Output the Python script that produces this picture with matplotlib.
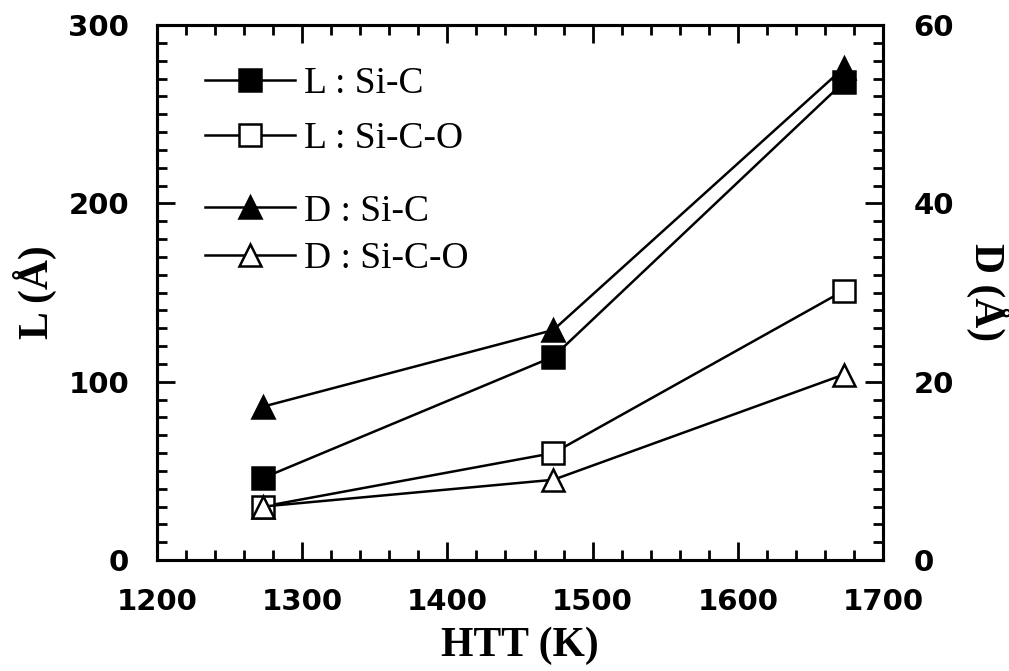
import matplotlib
matplotlib.use("Agg")
import matplotlib.pyplot as plt
from matplotlib.ticker import MultipleLocator

# Data
htt = [1273, 1473, 1673]
L_SiC = [46, 114, 268]
L_SiCO = [30, 60, 151]
D_SiC = [17.2, 25.8, 55.2]
D_SiCO = [6.0, 9.0, 20.8]

labels_L = ["L : Si-C", "L : Si-C-O"]
labels_D = ["D : Si-C", "D : Si-C-O"]

fig = plt.figure(figsize=(10.09, 6.71), dpi=100)
ax = fig.add_axes([0.1556, 0.1654, 0.7195, 0.7973])
ax2 = ax.twinx()

lw = 1.8
ms = 16
mew = 1.8
l1, = ax.plot(htt, L_SiC, '-', color='black', lw=lw, marker='s', ms=ms,
              mfc='black', mec='black', mew=mew, label=labels_L[0], zorder=3)
l2, = ax.plot(htt, L_SiCO, '-', color='black', lw=lw, marker='s', ms=ms,
              mfc='white', mec='black', mew=mew, label=labels_L[1], zorder=3)
l3, = ax2.plot(htt, D_SiC, '-', color='black', lw=lw, marker='^', ms=ms,
               mfc='black', mec='black', mew=mew, label=labels_D[0], zorder=3)
l4, = ax2.plot(htt, D_SiCO, '-', color='black', lw=lw, marker='^', ms=ms,
               mfc='white', mec='black', mew=mew, label=labels_D[1], zorder=3)

ax.set_xlim(1200, 1700)
ax.set_ylim(0, 300)
ax2.set_ylim(0, 60)

ax.xaxis.set_major_locator(MultipleLocator(100))
ax.xaxis.set_minor_locator(MultipleLocator(20))
ax.yaxis.set_major_locator(MultipleLocator(100))
ax.yaxis.set_minor_locator(MultipleLocator(10))
ax2.yaxis.set_major_locator(MultipleLocator(20))
ax2.yaxis.set_minor_locator(MultipleLocator(2))

for a in (ax, ax2):
    for sp in a.spines.values():
        sp.set_linewidth(2.2)
ax.tick_params(axis='x', which='both', direction='in', top=True, bottom=True, width=2)
ax.tick_params(axis='y', which='both', direction='in', left=True, right=False, width=2)
ax.tick_params(which='major', length=13, pad=20)
ax.tick_params(which='minor', length=7)
ax2.tick_params(axis='y', which='both', direction='in', right=True, left=False, width=2)
ax2.tick_params(which='major', length=13, pad=22)
ax2.tick_params(which='minor', length=7)

for lab in ax.get_xticklabels() + ax.get_yticklabels() + ax2.get_yticklabels():
    lab.set_fontfamily('DejaVu Sans')
    lab.set_fontweight('bold')
    lab.set_fontsize(21)

labfont = dict(family='Liberation Serif', weight='bold', size=30)
ax.set_xlabel("HTT (K)", fontdict=labfont, labelpad=8)
ax.set_ylabel("L (Å)", fontdict=labfont, labelpad=8)
ax2.set_ylabel("D (Å)", fontdict=labfont, rotation=270, labelpad=40)

legfont = dict(family='Liberation Serif', size=27)
leg1 = ax2.legend(handles=[l1, l2], loc='upper left', bbox_to_anchor=(0.045, 0.951),
                  frameon=False, prop=legfont, handlelength=2.4, handletextpad=0.25,
                  labelspacing=0.56, borderaxespad=0)
ax2.add_artist(leg1)
leg2 = ax2.legend(handles=[l3, l4], loc='upper left', bbox_to_anchor=(0.045, 0.712),
                  frameon=False, prop=legfont, handlelength=2.4, handletextpad=0.25,
                  labelspacing=0.35, borderaxespad=0)

fig.savefig("out.png", dpi=100)
